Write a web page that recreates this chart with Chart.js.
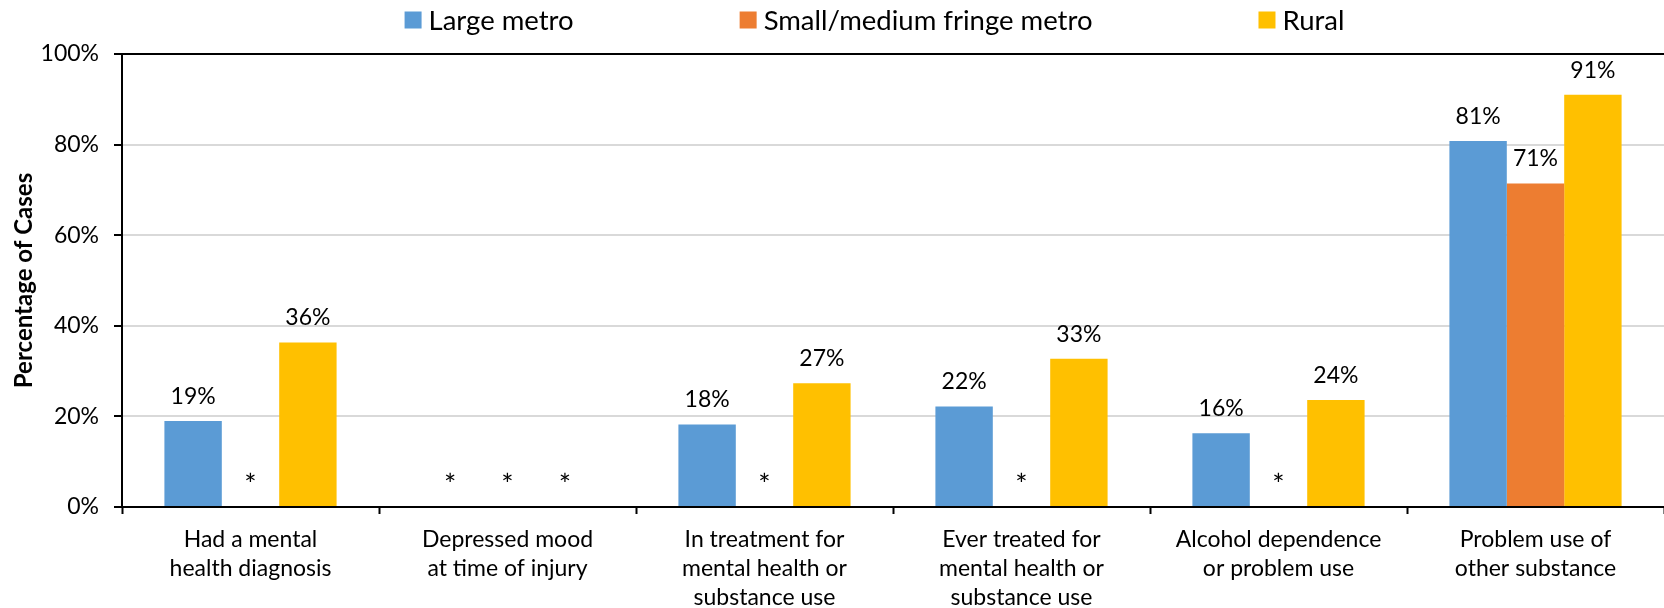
<!DOCTYPE html>
<html>
<head>
<meta charset="utf-8">
<script src="https://cdn.jsdelivr.net/npm/chart.js@4"></script>
<style>
  html, body { margin: 0; padding: 0; background: #fff; }
  #wrap { width: 1664px; height: 608px; }
</style>
</head>
<body>
<div id="wrap"><canvas id="chart" width="1664" height="608"></canvas></div>
<script>
// categories (multi-line labels as in the original)
const categories = [
  ['Had a mental', 'health diagnosis'],
  ['Depressed mood', 'at time of injury'],
  ['In treatment for', 'mental health or', 'substance use'],
  ['Ever treated for', 'mental health or', 'substance use'],
  ['Alcohol dependence', 'or problem use'],
  ['Problem use of', 'other substance']
];
const seriesNames = ['Large metro', 'Small/medium fringe metro', 'Rural'];
// percent of cases, null = suppressed (shown as *)
const largeMetro = [19.0, null, 18.2, 22.2, 16.3, 80.8];
const smallMedium = [null, null, null, null, null, 71.4];
const rural = [36.3, null, 27.3, 32.7, 23.6, 91.0];
const yTicks = [0, 20, 40, 60, 80, 100];

const colors = ['#5B9BD5', '#ED7D31', '#FFC000'];
const textColor = '#000';

Chart.defaults.font.family = 'Lato';
Chart.defaults.color = textColor;

// labels above bars, * for missing values
const valueLabels = {
  id: 'valueLabels',
  afterDatasetsDraw(chart) {
    const ctx = chart.ctx;
    const zeroY = chart.scales.y.getPixelForValue(0);
    ctx.save();
    ctx.fillStyle = textColor;
    ctx.textAlign = 'center';
    ctx.textBaseline = 'middle';
    chart.data.datasets.forEach((ds, di) => {
      chart.getDatasetMeta(di).data.forEach((bar, i) => {
        const v = ds.data[i];
        if (v === null) {
          ctx.font = '29px Lato';
          ctx.fillText('*', bar.x, zeroY - 21);
        } else {
          ctx.font = '23px Lato';
          ctx.fillText(Math.round(v) + '%', bar.x, bar.y - 24.5);
        }
      });
    });
    ctx.restore();
  }
};

// legend spread across the top like the original
const topLegend = {
  id: 'topLegend',
  afterDraw(chart) {
    const ctx = chart.ctx;
    const box = 17, gapText = 7, gapItem = 166, cy = 20, cx = 874.5;
    ctx.save();
    ctx.font = '27.5px Lato';
    ctx.textBaseline = 'middle';
    ctx.textAlign = 'left';
    const names = chart.data.datasets.map(d => d.label);
    const widths = names.map(n => ctx.measureText(n).width);
    const total = widths.reduce((s, w) => s + box + gapText + w, 0) + gapItem * (names.length - 1);
    let x = cx - total / 2;
    names.forEach((n, i) => {
      ctx.fillStyle = chart.data.datasets[i].backgroundColor;
      ctx.fillRect(x, cy - box / 2, box, box);
      ctx.fillStyle = textColor;
      ctx.fillText(n, x + box + gapText, cy + 1);
      x += box + gapText + widths[i] + gapItem;
    });
    ctx.restore();
  }
};

new Chart(document.getElementById('chart'), {
  type: 'bar',
  data: {
    labels: categories,
    datasets: [
      { label: seriesNames[0], data: largeMetro, backgroundColor: colors[0] },
      { label: seriesNames[1], data: smallMedium, backgroundColor: colors[1] },
      { label: seriesNames[2], data: rural, backgroundColor: colors[2] }
    ]
  },
  options: {
    responsive: false,
    animation: false,
    devicePixelRatio: 1,
    categoryPercentage: 0.67,
    barPercentage: 1.0,
    layout: { padding: { top: 54, left: 0, right: 0, bottom: 0 } },
    plugins: {
      legend: { display: false },
      tooltip: { enabled: false }
    },
    scales: {
      x: {
        afterFit: (scale) => { scale.height = 101; },
        grid: {
          offset: true,
          drawOnChartArea: false,
          drawTicks: true,
          tickLength: 7,
          tickColor: '#000',
          tickWidth: 2
        },
        border: { display: true, color: '#000', width: 2 },
        ticks: {
          autoSkip: false,
          maxRotation: 0,
          padding: 11,
          font: { size: 23, lineHeight: 1.27 }
        }
      },
      y: {
        min: 0,
        max: 100,
        afterFit: (scale) => { scale.width = 122; },
        afterBuildTicks: (scale) => { scale.ticks = yTicks.map(v => ({ value: v })); },
        grid: {
          color: (c) => (c.tick && c.tick.value === 100 ? '#000' : '#d9d9d9'),
          lineWidth: 2,
          drawTicks: true,
          tickLength: 8,
          tickColor: '#000',
          tickWidth: 2
        },
        border: { display: true, color: '#000', width: 2 },
        ticks: {
          padding: 15,
          font: { size: 23 },
          callback: (v) => v + '%'
        },
        title: {
          display: true,
          text: 'Percentage of Cases',
          font: { size: 24, weight: 'bold' },
          padding: { top: 10, bottom: 0 }
        }
      }
    }
  },
  plugins: [valueLabels, topLegend]
});
</script>
</body>
</html>
